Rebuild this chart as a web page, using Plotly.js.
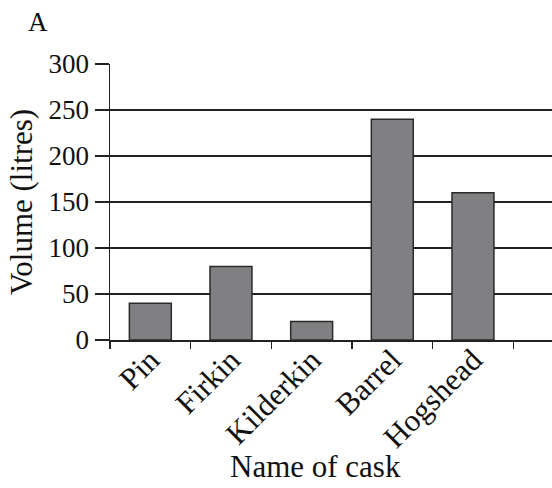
<!DOCTYPE html>
<html>
<head>
<meta charset="utf-8">
<script src="https://cdn.plot.ly/plotly-3.0.1.min.js"></script>
<style>
html,body{margin:0;padding:0;background:#fff;}
#chart{width:552px;height:488px;}
</style>
</head>
<body>
<div id="chart"></div>
<script>
const casks = ["Pin", "Firkin", "Kilderkin", "Barrel", "Hogshead"];
const volumes = [40, 80, 20, 240, 160];
const yTicks = [0, 50, 100, 150, 200, 250, 300];

const font = {family: "Liberation Serif", size: 27, color: "#111"};
const bigFont = {family: "Liberation Serif", size: 31, color: "#111"};

const trace = {
  type: "bar",
  x: casks,
  y: volumes,
  marker: {color: "#808083", line: {color: "#2a2a2a", width: 1.5}},
  hoverinfo: "skip"
};

const layout = {
  width: 552,
  height: 488,
  margin: {l: 110, r: 0, t: 64, b: 148},
  paper_bgcolor: "#fff",
  plot_bgcolor: "#fff",
  font: font,
  showlegend: false,
  bargap: 0.48,
  xaxis: {
    type: "category",
    categoryorder: "array",
    categoryarray: casks,
    range: [-0.5, 4.98],
    tickson: "boundaries",
    ticks: "outside",
    ticklen: 7,
    tickwidth: 1.5,
    tickcolor: "#222",
    tickangle: -45,
    ticklabelstandoff: -12,
    showline: true,
    linecolor: "#222",
    linewidth: 1.5,
    showgrid: false,
    zeroline: false,
    tickfont: bigFont
  },
  yaxis: {
    range: [0, 300],
    tickvals: yTicks,
    ticktext: yTicks.map(String),
    ticks: "outside",
    ticklen: 14,
    tickwidth: 1.5,
    tickcolor: "#222",
    showline: true,
    linecolor: "#222",
    linewidth: 1.5,
    showgrid: true,
    gridcolor: "#222",
    gridwidth: 1.5,
    zeroline: false,
    tickfont: font,
    title: {text: "Volume (litres)", font: bigFont, standoff: 6}
  },
  annotations: [
    {text: "A", xref: "paper", yref: "paper", x: -0.19, y: 1.152, xanchor: "left", yanchor: "middle", showarrow: false, font: font},
    {text: "Name of cask", xref: "paper", yref: "paper", x: 0.466, y: -0.457, xanchor: "center", yanchor: "middle", showarrow: false, font: bigFont}
  ]
};

Plotly.newPlot("chart", [trace], layout, {displayModeBar: false, staticPlot: true});
</script>
</body>
</html>
